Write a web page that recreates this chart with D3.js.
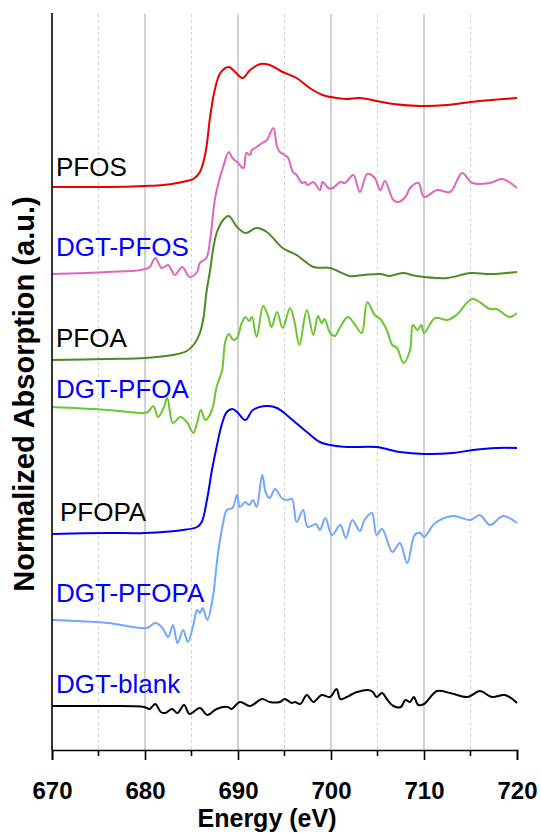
<!DOCTYPE html>
<html>
<head>
<meta charset="utf-8">
<script src="https://cdn.jsdelivr.net/npm/d3@7"></script>
<style>
  body { margin: 0; background: #fff; }
  text { font-family: Arial, "Liberation Sans", sans-serif; }
</style>
</head>
<body>
<script>
// spectra, [energy eV, offset absorption a.u.]
var pfos = [[670,5.63],[676,5.63],[680,5.64],[682,5.65],[683.5,5.67],[684.5,5.69],[685.2,5.71],[685.9,5.78],[686.5,5.97],[687,6.33],[687.5,6.60],[688.1,6.77],[689,6.83],[689.7,6.78],[690.5,6.72],[691.3,6.80],[692.4,6.86],[693.4,6.85],[694.8,6.78],[696.3,6.72],[697.7,6.62],[699.1,6.55],[700.6,6.52],[701.7,6.51],[703.1,6.52],[704.9,6.49],[706.7,6.46],[709.6,6.44],[712.5,6.45],[715,6.48],[716,6.49],[720,6.52]];

var dgtPfos = [[670,4.76],[676,4.78],[679.5,4.80],[680.5,4.83],[681.1,4.92],[681.8,4.82],[682.5,4.85],[683.2,4.75],[684,4.83],[684.8,4.73],[685.6,4.78],[685.9,4.87],[686.6,4.92],[687,5.10],[687.5,5.5],[687.9,5.67],[688.4,5.83],[689,5.98],[689.4,5.92],[689.9,5.88],[690.6,5.82],[690.9,5.97],[691.3,5.95],[691.5,6.0],[692,6.03],[692.6,6.07],[693.1,6.10],[693.8,6.22],[694.2,6.03],[694.5,5.98],[695,5.95],[695.4,5.92],[695.9,5.78],[696.3,5.75],[696.9,5.67],[697.2,5.68],[697.5,5.65],[698.1,5.68],[698.8,5.60],[699.1,5.68],[699.7,5.62],[700.2,5.62],[701,5.68],[701.5,5.67],[702.4,5.75],[703.1,5.58],[703.9,5.76],[704.7,5.72],[705.3,5.60],[705.8,5.69],[706.7,5.50],[707.2,5.48],[708,5.53],[708.5,5.62],[709.4,5.67],[710,5.53],[711.4,5.60],[712.8,5.58],[714.1,5.77],[715.2,5.67],[717.1,5.67],[718.4,5.71],[720,5.62]];

var pfoa = [[670,3.90],[676,3.91],[680,3.92],[683,3.95],[684.5,3.99],[685.3,4.06],[685.9,4.17],[686.3,4.33],[686.6,4.57],[687,4.80],[687.4,5.05],[687.7,5.17],[688.4,5.30],[689,5.34],[689.9,5.23],[690.8,5.17],[692,5.22],[693.1,5.18],[694.8,5.02],[696.3,4.95],[698.1,4.83],[699.9,4.82],[702,4.74],[703.5,4.75],[705.3,4.76],[706.3,4.74],[707.7,4.77],[709.2,4.74],[712.5,4.72],[715,4.77],[717.1,4.76],[720,4.78]];

var dgtPfoa = [[670,3.43],[676,3.40],[679.5,3.37],[680.3,3.38],[680.9,3.44],[681.4,3.33],[682,3.42],[682.4,3.52],[683,3.27],[683.8,3.33],[684.5,3.28],[685.2,3.17],[685.6,3.27],[686,3.40],[686.5,3.30],[687.2,3.40],[687.7,3.63],[688.3,3.80],[688.6,4.07],[689,4.16],[689.5,4.10],[689.9,4.12],[690.4,4.27],[690.8,4.33],[691.2,4.29],[691.5,4.33],[692,4.13],[692.7,4.44],[693.2,4.35],[693.6,4.23],[694.2,4.38],[694.8,4.22],[695.6,4.42],[696.1,4.27],[696.6,4.05],[697.4,4.40],[698.1,4.15],[698.6,4.34],[699,4.27],[699.3,4.31],[699.9,4.17],[700.4,4.14],[701,4.23],[701.8,4.33],[702.6,4.25],[703.3,4.17],[703.9,4.48],[704.7,4.35],[705.3,4.31],[706,4.20],[706.6,4.05],[707.1,4.02],[707.8,3.87],[708.5,4.00],[708.8,4.25],[709.3,4.20],[709.7,4.25],[710,4.17],[711.2,4.32],[712.5,4.30],[713.5,4.35],[715.2,4.51],[717.1,4.41],[717.8,4.41],[719.2,4.33],[720,4.37]];

var pfopa = [[670,2.16],[676,2.17],[680,2.17],[684.1,2.20],[685.6,2.23],[686.1,2.28],[686.7,2.52],[687.2,2.80],[687.7,3.03],[688.3,3.27],[688.8,3.38],[689.4,3.41],[690,3.37],[690.8,3.30],[691.6,3.40],[693.1,3.44],[694.2,3.42],[695.6,3.32],[697.4,3.18],[698.8,3.08],[699.9,3.05],[701.7,3.03],[704.9,3.03],[707.4,2.98],[710,2.96],[713.1,2.97],[715.3,3.00],[717.8,3.02],[720,3.02]];

var dgtPfopa = [[670,1.30],[676,1.27],[680.2,1.22],[681.1,1.27],[681.8,1.23],[682.5,1.13],[683,1.25],[683.5,1.07],[684.1,1.20],[684.6,1.08],[685.2,1.25],[685.6,1.40],[685.9,1.37],[686.2,1.42],[686.7,1.30],[687.3,1.53],[687.8,1.93],[688.4,2.27],[688.8,2.40],[689.4,2.42],[689.9,2.55],[690.2,2.43],[690.8,2.48],[691.2,2.45],[691.6,2.50],[692,2.43],[692.6,2.75],[693,2.57],[693.4,2.52],[694,2.61],[694.7,2.52],[695.3,2.50],[695.8,2.51],[696.3,2.28],[697,2.40],[697.5,2.23],[698.4,2.26],[698.8,2.20],[699.4,2.32],[700.1,2.15],[701,2.25],[701.6,2.12],[702.3,2.30],[703.1,2.19],[703.6,2.30],[704.4,2.37],[704.9,2.15],[705.5,2.21],[706.6,1.98],[707.4,2.07],[708.2,1.87],[709,2.15],[709.6,2.17],[710,2.13],[711.2,2.27],[713.1,2.34],[715,2.30],[716,2.35],[717.1,2.25],[718.5,2.34],[720,2.27]];

var dgtBlank = [[670,0.44],[676,0.44],[679.9,0.43],[680.5,0.41],[681.1,0.46],[681.7,0.38],[682.2,0.37],[682.9,0.41],[683.5,0.37],[684.2,0.45],[684.8,0.36],[685.9,0.42],[686.7,0.35],[687.7,0.41],[688.9,0.43],[689.3,0.41],[690.2,0.48],[691.3,0.44],[692.6,0.51],[693.4,0.48],[694.5,0.48],[695,0.51],[695.8,0.47],[696.1,0.48],[696.7,0.46],[697.4,0.55],[698.1,0.48],[699,0.55],[699.9,0.53],[700.6,0.61],[701,0.51],[701.7,0.53],[702.3,0.56],[702.8,0.58],[704,0.60],[704.5,0.58],[704.9,0.53],[705.5,0.57],[706,0.51],[706.7,0.44],[707.5,0.43],[708,0.50],[708.5,0.48],[708.9,0.53],[709.4,0.45],[710,0.46],[711.4,0.59],[712.8,0.57],[714.7,0.53],[716,0.59],[717.3,0.53],[718.7,0.55],[720,0.47]];

var seriesNames = ["PFOS", "DGT-PFOS", "PFOA", "DGT-PFOA", "PFOPA", "DGT-PFOPA", "DGT-blank"];
var seriesData = [pfos, dgtPfos, pfoa, dgtPfoa, pfopa, dgtPfopa, dgtBlank];
var seriesColors = ["#e60000", "#e065c0", "#4b8a24", "#6cc632", "#0000f0", "#73a6ff", "#000000"];
var labelColors = ["#000", "#0000ff", "#000", "#0000ff", "#000", "#0000ff", "#0000ff"];
// label baselines, in data units
var labelY = [5.74, 4.94, 4.03, 3.52, 2.29, 1.48, 0.57];

var majorTicks = [670, 680, 690, 700, 710, 720];
var minorTicks = [675, 685, 695, 705, 715];

window.onload = setChart();

function setChart(){
    var width = 541, height = 833;
    var left = 52, right = 517, top = 14, bottom = 750;

    var svg = d3.select("body")
        .append("svg")
        .attr("width", width)
        .attr("height", height);

    var x = d3.scaleLinear().domain([670, 720]).range([left, right]);
    var y = d3.scaleLinear().domain([0, 7.36]).range([bottom, top]);

    //grid
    svg.selectAll(".gmaj")
        .data(majorTicks.slice(1, -1))
        .enter()
        .append("line")
        .attr("x1", d => x(d)).attr("x2", d => x(d))
        .attr("y1", top).attr("y2", bottom)
        .attr("stroke", "#b4b4b4")
        .attr("stroke-width", 1.2);

    svg.selectAll(".gmin")
        .data(minorTicks)
        .enter()
        .append("line")
        .attr("x1", d => x(d)).attr("x2", d => x(d))
        .attr("y1", top).attr("y2", bottom)
        .attr("stroke", "#d2d2d2")
        .attr("stroke-width", 1)
        .attr("stroke-dasharray", "3,3");

    var line = d3.line()
        .x(d => x(d[0]))
        .y(d => y(d[1]))
        .curve(d3.curveCatmullRom.alpha(0.5));

    svg.selectAll(".spec")
        .data(seriesData)
        .enter()
        .append("path")
        .attr("class", "spec")
        .attr("d", line)
        .attr("fill", "none")
        .attr("stroke", (d, i) => seriesColors[i])
        .attr("stroke-width", 2)
        .attr("stroke-linejoin", "round");

    svg.selectAll(".lab")
        .data(seriesNames)
        .enter()
        .append("text")
        .attr("x", (d, i) => i == 4 ? 60 : 56)
        .attr("y", (d, i) => y(labelY[i]))
        .attr("fill", (d, i) => labelColors[i])
        .style("font-size", "26px")
        .text(d => d);

    //x axis
    var xAxis = d3.axisBottom(x)
        .tickValues(majorTicks)
        .tickSize(10)
        .tickPadding(22)
        .tickFormat(d3.format("d"));

    var gx = svg.append("g")
        .attr("transform", "translate(0," + bottom + ")")
        .call(xAxis);
    gx.select(".domain").attr("stroke-width", 1.6);
    gx.selectAll(".tick line").attr("stroke-width", 1.6);
    gx.selectAll(".tick text")
        .style("font-size", "24px")
        .style("font-weight", "bold")
        .style("font-family", "Arial, 'Liberation Sans', sans-serif")
        .attr("fill", "#000");

    gx.selectAll(".minor")
        .data(minorTicks)
        .enter()
        .append("line")
        .attr("x1", d => x(d)).attr("x2", d => x(d))
        .attr("y1", 0).attr("y2", 6)
        .attr("stroke", "#000")
        .attr("stroke-width", 1.6);

    //y axis line only
    svg.append("line")
        .attr("x1", left).attr("x2", left)
        .attr("y1", top - 1).attr("y2", bottom)
        .attr("stroke", "#000")
        .attr("stroke-width", 1.6);

    svg.append("text")
        .attr("x", 267)
        .attr("y", 827)
        .attr("text-anchor", "middle")
        .style("font-size", "25px")
        .style("font-weight", "bold")
        .text("Energy (eV)");

    svg.append("text")
        .attr("transform", "translate(34,394) rotate(-90)")
        .attr("text-anchor", "middle")
        .style("font-size", "29px")
        .style("font-weight", "bold")
        .text("Normalized Absorption (a.u.)");
};
</script>
</body>
</html>
